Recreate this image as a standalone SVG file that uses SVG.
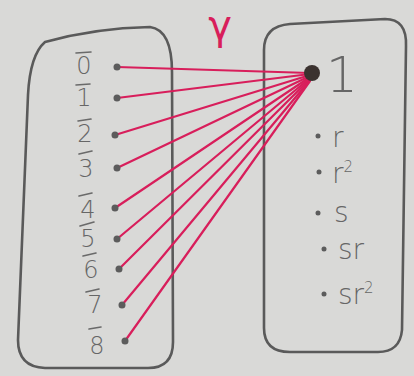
<svg xmlns="http://www.w3.org/2000/svg" width="414" height="376" viewBox="0 0 414 376">
<style>
.bg{fill:#d9d9d7}
.box{fill:none;stroke:#5a5a5a;stroke-width:2.6;stroke-linejoin:round}
.lbl{font-family:"DejaVu Sans",sans-serif;font-size:24px;font-weight:200;fill:#666;text-anchor:middle}
.rl{font-family:"DejaVu Sans",sans-serif;font-size:28px;font-weight:200;fill:#666}
.one{font-family:"DejaVu Sans",sans-serif;font-size:50px;font-weight:200;fill:#666;text-anchor:middle}
.sup{font-size:15px}
.bar{stroke:#6a6a6a;stroke-width:1.6;stroke-linecap:round}
.dot{fill:#5c5c5c}
.edge{stroke:#d81e5b;stroke-width:2.2;fill:none;stroke-linecap:round}
.title{font-family:"DejaVu Sans",sans-serif;font-size:40px;fill:#d81e5b;text-anchor:middle}
</style>
<rect class="bg" x="0" y="0" width="414" height="376"/>
<g id="domain">
<path class="box" d="M45 42 Q95 28 150 27 Q172 30 172 72 L173 342 Q173 368 148 368 L45 368 Q18 367 18 340 L28 95 Q30 55 45 42 Z"/>
</g>
<g id="codomain">
<path class="box" d="M290 24 L385 19 Q407 19 406 46 L402 330 Q400 352 378 352 L290 352 Q264 352 264 328 L264 50 Q264 26 290 24 Z"/>
</g>
<text class="title" x="220" y="39">γ</text>
<g id="connectors">
<line class="edge" x1="117" y1="67" x2="310" y2="73"/>
<line class="edge" x1="117" y1="98" x2="310" y2="74"/>
<line class="edge" x1="115" y1="135" x2="310" y2="75"/>
<line class="edge" x1="117" y1="168" x2="310" y2="76"/>
<line class="edge" x1="115" y1="208" x2="310" y2="77"/>
<line class="edge" x1="117" y1="239" x2="310" y2="78"/>
<line class="edge" x1="119" y1="269" x2="310" y2="79"/>
<line class="edge" x1="122" y1="305" x2="310" y2="80"/>
<line class="edge" x1="125" y1="341" x2="310" y2="81"/>
</g>
<g id="n0"><line class="bar" x1="76" y1="53" x2="91" y2="52"/><text class="lbl" x="84" y="74">0</text><circle class="dot" cx="117" cy="67" r="3.5"/></g>
<g id="n1"><line class="bar" x1="76" y1="85" x2="90" y2="84"/><text class="lbl" x="84" y="106">1</text><circle class="dot" cx="117" cy="98" r="3.5"/></g>
<g id="n2"><line class="bar" x1="78" y1="121" x2="91" y2="119"/><text class="lbl" x="85" y="142">2</text><circle class="dot" cx="115" cy="135" r="3.5"/></g>
<g id="n3"><line class="bar" x1="79" y1="154" x2="92" y2="151"/><text class="lbl" x="86" y="177">3</text><circle class="dot" cx="117" cy="168" r="3.5"/></g>
<g id="n4"><line class="bar" x1="79" y1="196" x2="92" y2="193"/><text class="lbl" x="88" y="218">4</text><circle class="dot" cx="115" cy="208" r="3.5"/></g>
<g id="n5"><line class="bar" x1="80" y1="226" x2="94" y2="222"/><text class="lbl" x="88" y="247">5</text><circle class="dot" cx="117" cy="239" r="3.5"/></g>
<g id="n6"><line class="bar" x1="83" y1="256" x2="96" y2="253"/><text class="lbl" x="91" y="278">6</text><circle class="dot" cx="119" cy="269" r="3.5"/></g>
<g id="n7"><line class="bar" x1="86" y1="292" x2="99" y2="289"/><text class="lbl" x="95" y="313">7</text><circle class="dot" cx="122" cy="305" r="3.5"/></g>
<g id="n8"><line class="bar" x1="89" y1="329" x2="101" y2="327"/><text class="lbl" x="97" y="354">8</text><circle class="dot" cx="125" cy="341" r="3.5"/></g>
<g id="e"><circle cx="312" cy="73" r="8" fill="#3b322f"/><text class="one" x="342" y="92">1</text></g>
<g id="r"><circle class="dot" cx="318" cy="136" r="2.5"/><text class="rl" x="332" y="147">r</text></g>
<g id="r2"><circle class="dot" cx="319" cy="172" r="2.5"/><text class="rl" x="332" y="183">r<tspan class="sup" dy="-11">2</tspan></text></g>
<g id="s"><circle class="dot" cx="318" cy="213" r="2.5"/><text class="rl" x="334" y="222">s</text></g>
<g id="sr"><circle class="dot" cx="324" cy="249" r="2.5"/><text class="rl" x="338" y="259">sr</text></g>
<g id="sr2"><circle class="dot" cx="324" cy="294" r="2.5"/><text class="rl" x="338" y="304">sr<tspan class="sup" dy="-11">2</tspan></text></g>
</svg>
